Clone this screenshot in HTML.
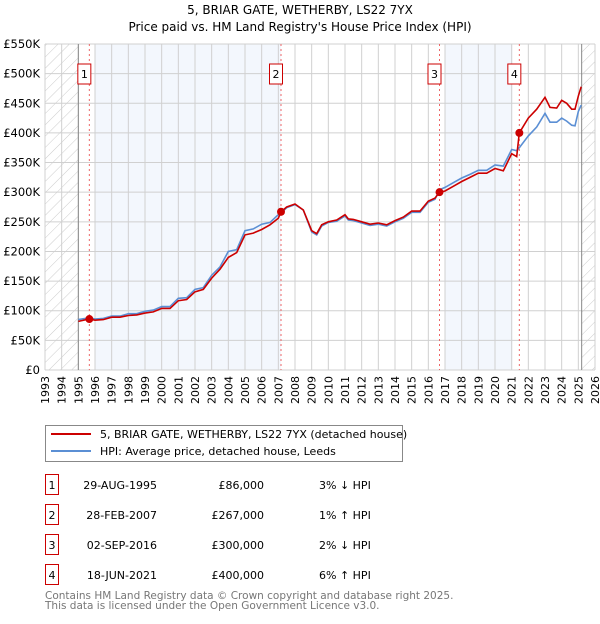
<!DOCTYPE html>
<html><head><meta charset="utf-8">
<style>
body{margin:0;background:#fff;font-family:"DejaVu Sans","Liberation Sans",sans-serif;}
svg text{font-family:"DejaVu Sans","Liberation Sans",sans-serif;}
</style></head>
<body>
<svg id="chart" width="600" height="620" viewBox="0 0 600 620" xmlns="http://www.w3.org/2000/svg">
<defs>
<pattern id="hatch" width="8" height="8" patternUnits="userSpaceOnUse" patternTransform="rotate(45)">
<line x1="0" y1="0" x2="0" y2="8" stroke="#ccc" stroke-width="1"/>
</pattern>
</defs>
<text x="300" y="14" text-anchor="middle" font-size="12">5, BRIAR GATE, WETHERBY, LS22 7YX</text>
<text x="300" y="31" text-anchor="middle" font-size="12">Price paid vs. HM Land Registry's House Price Index (HPI)</text>
<g id="bg"></g>
<g id="grid"></g>
<g id="series"></g>
<g id="axes"></g>

<g>
<rect x="45.5" y="425.5" width="357" height="36" fill="#fff" stroke="#888"/>
<line x1="51" y1="434" x2="91" y2="434" stroke="#cc0000" stroke-width="2"/>
<text x="100" y="438" font-size="11">5, BRIAR GATE, WETHERBY, LS22 7YX (detached house)</text>
<line x1="51" y1="451" x2="91" y2="451" stroke="#5b8fd4" stroke-width="2"/>
<text x="100" y="455" font-size="11">HPI: Average price, detached house, Leeds</text>
</g>
<g id="table" font-size="11"></g>
<text x="45" y="599" font-size="10.5" fill="#777">Contains HM Land Registry data © Crown copyright and database right 2025.</text>
<text x="45" y="609" font-size="10.5" fill="#777">This data is licensed under the Open Government Licence v3.0.</text>
</svg>
<script>
const yearTicks=[1993,1994,1995,1996,1997,1998,1999,2000,2001,2002,2003,2004,2005,2006,2007,2008,2009,2010,2011,2012,2013,2014,2015,2016,2017,2018,2019,2020,2021,2022,2023,2024,2025,2026];
const priceTicks=[0,50,100,150,200,250,300,350,400,450,500,550];
const priceTickLabels=["£0","£50K","£100K","£150K","£200K","£250K","£300K","£350K","£400K","£450K","£500K","£550K"];
const redYears=[1995.0,1995.66,1996,1996.5,1997,1997.5,1998,1998.5,1999,1999.5,2000,2000.5,2001,2001.5,2002,2002.5,2003,2003.5,2004,2004.5,2005,2005.5,2006,2006.5,2007,2007.16,2007.5,2008,2008.5,2009,2009.3,2009.6,2010,2010.5,2011,2011.2,2011.5,2012,2012.5,2013,2013.5,2014,2014.5,2015,2015.5,2016,2016.4,2016.67,2017,2017.5,2018,2018.5,2019,2019.5,2020,2020.5,2021,2021.3,2021.46,2022,2022.5,2023,2023.3,2023.7,2024,2024.3,2024.6,2024.8,2025,2025.17];
const redValues=[82,86,84,85,89,89,92,93,96,98,104,104,117,119,132,136,155,170,190,198,228,231,237,245,256,267,275,280,270,235,230,245,250,253,262,255,254,250,246,248,245,252,258,268,268,285,290,300,302,310,318,325,332,332,340,336,365,360,400,425,440,460,443,442,455,450,440,440,462,478];
const hpiYears=[1995.0,1995.66,1996,1996.5,1997,1997.5,1998,1998.5,1999,1999.5,2000,2000.5,2001,2001.5,2002,2002.5,2003,2003.5,2004,2004.5,2005,2005.5,2006,2006.5,2007,2007.16,2007.5,2008,2008.5,2009,2009.3,2009.6,2010,2010.5,2011,2011.2,2011.5,2012,2012.5,2013,2013.5,2014,2014.5,2015,2015.5,2016,2016.4,2016.67,2017,2017.5,2018,2018.5,2019,2019.5,2020,2020.5,2021,2021.3,2021.46,2022,2022.5,2023,2023.3,2023.7,2024,2024.3,2024.6,2024.8,2025,2025.17];
const hpiValues=[85,88,86,87,91,91,95,95,99,101,107,107,121,122,136,139,160,174,200,203,235,238,246,249,262,264,274,279,270,233,228,243,249,251,260,253,252,248,244,246,243,250,256,266,266,283,288,304,308,316,324,330,337,337,346,344,372,370,375,395,410,433,418,418,425,420,413,412,436,447];
const saleYears=[1995.66,2007.16,2016.67,2021.46];
const saleValues=[86,267,300,400];
const saleLabels=["1","2","3","4"];
const saleDates=["29-AUG-1995","28-FEB-2007","02-SEP-2016","18-JUN-2021"];
const salePrices=["£86,000","£267,000","£300,000","£400,000"];
const saleDiffs=["3% ↓ HPI","1% ↑ HPI","2% ↓ HPI","6% ↑ HPI"];

const NS="http://www.w3.org/2000/svg";
const X0=45,X1=595,Y0=370,Y1=44;
function xs(y){return X0+(y-1993)/(2026-1993)*(X1-X0);}
function ys(v){return Y0-v/550*(Y0-Y1);}
function mk(tag,attrs,parent){const e=document.createElementNS(NS,tag);for(const k in attrs)e.setAttribute(k,attrs[k]);parent.appendChild(e);return e;}
const bg=document.getElementById('bg'),grid=document.getElementById('grid'),series=document.getElementById('series'),axes=document.getElementById('axes'),table=document.getElementById('table');

let r=mk('rect',{x:X0,y:Y1,width:X1-X0,height:Y0-Y1,fill:'#fff'},bg);


r=mk('rect',{x:xs(1996),y:Y1,width:xs(2007.16)-xs(1996),height:Y0-Y1,fill:'#eef3fc',opacity:0.7},bg);


r=mk('rect',{x:xs(2017),y:Y1,width:xs(2021.05)-xs(2017),height:Y0-Y1,fill:'#eef3fc',opacity:0.7},bg);


r=mk('rect',{x:X0,y:Y1,width:xs(1995)-X0,height:Y0-Y1,fill:'url(#hatch)'},bg);


r=mk('rect',{x:xs(2025.2),y:Y1,width:X1-xs(2025.2),height:Y0-Y1,fill:'url(#hatch)'},bg);



yearTicks.forEach(y=>{
 const l=mk('line',{x1:xs(y),y1:Y1,x2:xs(y),y2:Y0,stroke:'#d0d0d0','stroke-width':1},grid);
 
 
 const t=mk('text',{x:0,y:0,'font-size':11,'text-anchor':'end',transform:`translate(${xs(y)+4},${Y0+6}) rotate(-90)`},axes);
 t.textContent=y;
 
 
});
priceTicks.forEach((v,i)=>{
 const l=mk('line',{x1:X0,y1:ys(v),x2:X1,y2:ys(v),stroke:'#d0d0d0','stroke-width':1},grid);
 
 
 const t=mk('text',{x:40,y:ys(v)+4,'font-size':11.5,'text-anchor':'end'},axes);
 t.textContent=priceTickLabels[i];
 
 
});
let vl=mk('line',{x1:xs(1995),y1:Y1,x2:xs(1995),y2:Y0,stroke:'#888'},grid);


vl=mk('line',{x1:xs(2025.2),y1:Y1,x2:xs(2025.2),y2:Y0,stroke:'#888'},grid);



saleYears.forEach((y,i)=>{
 const l=mk('line',{x1:xs(y),y1:Y1,x2:xs(y),y2:Y0,stroke:'#ee6666','stroke-dasharray':'2,3'},grid);
 
 
 const b=mk('rect',{x:xs(y)-11.5,y:64,width:13,height:20,fill:'#fff',stroke:'#cc0000'},grid);
 
 
 const t=mk('text',{x:xs(y)-5,y:78,'font-size':11,'text-anchor':'middle'},grid);
 t.textContent=saleLabels[i];
 
 
});

function path(xsArr,vals){return xsArr.map((y,i)=>(i?'L':'M')+xs(y).toFixed(1)+','+ys(vals[i]).toFixed(1)).join(' ');}
let p=mk('path',{d:path(hpiYears,hpiValues),fill:'none',stroke:'#5b8fd4','stroke-width':1.6},series);


p=mk('path',{d:path(redYears,redValues),fill:'none',stroke:'#cc0000','stroke-width':1.6},series);


saleYears.forEach((y,i)=>{
 const c=mk('circle',{cx:xs(y),cy:ys(saleValues[i]),r:4,fill:'#cc0000'},series);
 
 
});

const rowY=[487,517,547,577];
saleLabels.forEach((s,i)=>{
 const y=rowY[i];
 const b=mk('rect',{x:45.5,y:y-12.5,width:13,height:20,fill:'#fff',stroke:'#cc0000'},table);
 
 
 let t=mk('text',{x:52,y:y+2,'text-anchor':'middle'},table);t.textContent=s;
 
 
 t=mk('text',{x:157,y:y+2,'text-anchor':'end'},table);t.textContent=saleDates[i];
 
 
 t=mk('text',{x:264,y:y+2,'text-anchor':'end'},table);t.textContent=salePrices[i];
 
 
 t=mk('text',{x:319,y:y+2},table);t.textContent=saleDiffs[i];
 
 
});
</script>
</body></html>
